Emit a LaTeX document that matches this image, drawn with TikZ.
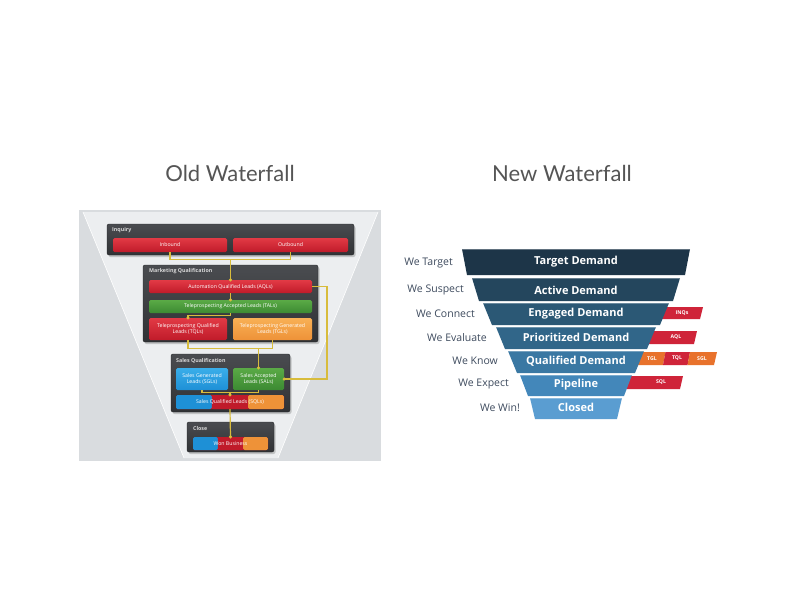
\documentclass[tikz,border=0pt]{standalone}
\usepackage{fontspec}
\setmainfont{Open Sans}
\newfontfamily\titlefont{Lato}
\usetikzlibrary{calc}
\definecolor{panelbg}{HTML}{D9DCDF}
\definecolor{trap}{HTML}{ECEEF0}
\definecolor{dkA}{HTML}{4A4C50}
\definecolor{dkB}{HTML}{303235}
\definecolor{dkC}{HTML}{26282A}
\definecolor{redA}{HTML}{E23A45}
\definecolor{redB}{HTML}{C01B2A}
\definecolor{grnA}{HTML}{5AAA46}
\definecolor{grnB}{HTML}{3C8A32}
\definecolor{orA}{HTML}{F8B055}
\definecolor{orB}{HTML}{EE9238}
\definecolor{blA}{HTML}{3AAEEA}
\definecolor{blB}{HTML}{1E90D6}
\definecolor{cyel}{HTML}{D8BC3C}
\definecolor{titlegray}{HTML}{555555}
\definecolor{lblgray}{HTML}{3E4B5E}
\definecolor{bA}{HTML}{1D3548}
\definecolor{bB}{HTML}{24465D}
\definecolor{bC}{HTML}{2B5875}
\definecolor{bD}{HTML}{316689}
\definecolor{bE}{HTML}{3A78A3}
\definecolor{bF}{HTML}{4387BA}
\definecolor{bG}{HTML}{5A9DD1}
\definecolor{tagred}{HTML}{CF2439}
\definecolor{tagor}{HTML}{E8722C}
\tikzset{
  title/.style={font=\titlefont\fontsize{22}{26}\selectfont, text=titlegray},
  darkbox/.style={rounded corners=2pt, top color=dkA, bottom color=dkB, draw=dkC, line width=0.4pt},
  hdr/.style={font=\bfseries\fontsize{5.3}{6}\selectfont, text=white!85!black, inner sep=0pt, anchor=west},
  leadbox/.style={rounded corners=1.5pt, inner sep=0pt, text=white, font=\fontsize{5.2}{6.2}\selectfont, align=center},
  redbox/.style={leadbox, top color=redA, bottom color=redB},
  grnbox/.style={leadbox, top color=grnA, bottom color=grnB},
  orbox/.style={leadbox, top color=orA, bottom color=orB},
  blbox/.style={leadbox, top color=blA, bottom color=blB},
  tribox/.style={leadbox, fill=redB, path picture={
      \fill[blB] (path picture bounding box.north west) rectangle ($(path picture bounding box.south west)!0.333!(path picture bounding box.south east)$);
      \fill[redB] ($(path picture bounding box.north west)!0.333!(path picture bounding box.north east)$) rectangle ($(path picture bounding box.south west)!0.667!(path picture bounding box.south east)$);
      \fill[orB] ($(path picture bounding box.north west)!0.667!(path picture bounding box.north east)$) rectangle (path picture bounding box.south east);
    }},
  conn/.style={draw=cyel, line width=1.2pt},
  band/.style={font=\bfseries\fontsize{11}{13}\selectfont, text=white, inner sep=0pt},
  weLabel/.style={font=\fontsize{10.5}{12}\selectfont, text=lblgray, inner sep=0pt, anchor=east},
  tagtxt/.style={font=\bfseries\fontsize{5.2}{6}\selectfont, text=white, inner sep=0pt},
  shadowbox/.style={fill=black, opacity=0.18, rounded corners=2pt}
}
\begin{document}
\begin{tikzpicture}[x=1pt,y=-1pt]
\useasboundingbox (0,0) rectangle (800,600);
\fill[white] (0,0) rectangle (800,600);

% Titles
\node[title] (t1) at (230,173) {Old Waterfall};
\node[title] (t2) at (562,173) {New Waterfall};

% ---------- Old waterfall ----------
\fill[panelbg] (79,210) rectangle (381,461);
\fill[trap] (83,212) -- (378,212) -- (278,458) -- (184,458) -- cycle;
\draw[white, line width=0.6pt] (83,212) -- (184,458) (378,212) -- (278,458);

% dark boxes
\fill[shadowbox] (108.5,226) rectangle (355.5,257);
\draw[darkbox] (107,224) rectangle (354,255);
\fill[shadowbox] (144.5,267) rectangle (319.5,344);
\draw[darkbox] (143,265) rectangle (318,342);
\fill[shadowbox] (172.5,356) rectangle (291.5,414);
\draw[darkbox] (171,354) rectangle (290,412);
\fill[shadowbox] (188.5,424) rectangle (275.5,454);
\draw[darkbox] (187,422) rectangle (274,452);

\node[hdr] (hInq) at (112,230.5) {Inquiry};
\node[hdr] (hMQ) at (149,271.5) {Marketing Qualification};
\node[hdr] (hSQ) at (176,360.5) {Sales Qualification};
\node[hdr] (hCl) at (193,428.5) {Close};

\node[redbox, minimum width=114pt, minimum height=14pt] (inb) at (170,245) {Inbound};
\node[redbox, minimum width=115pt, minimum height=14pt] (outb) at (290.5,245) {Outbound};
\node[redbox, minimum width=163pt, minimum height=13pt] (aql) at (230.5,286.5) {Automation Qualified Leads (AQLs)};
\node[grnbox, minimum width=163pt, minimum height=13pt] (tal) at (230.5,306.5) {Teleprospecting Accepted Leads (TALs)};
\node[redbox, minimum width=78pt, minimum height=22pt] (tql) at (188,329) {Teleprospecting Qualified\\Leads (TQLs)};
\node[orbox, minimum width=79pt, minimum height=22pt] (tgl) at (272.5,329) {Teleprospecting Generated\\Leads (TGLs)};
\node[blbox, minimum width=52pt, minimum height=22pt] (sgl) at (202,379) {Sales Generated\\Leads (SGLs)};
\node[grnbox, minimum width=51pt, minimum height=22pt] (sal) at (258.5,379) {Sales Accepted\\Leads (SALs)};
\node[tribox, minimum width=108pt, minimum height=14pt] (sql) at (230,402) {Sales Qualified Leads (SQLs)};
\node[tribox, minimum width=75pt, minimum height=13pt] (won) at (230.5,443.5) {Won Business};

% connectors
\coordinate (j1) at (230.5,259);
\coordinate (j2) at (258.5,348);
\coordinate (j3) at (230,392.5);
\coordinate (j4) at (327,286.5);
\draw[conn] (inb.south) -- ++(0,7) -| (outb.south);
\draw[conn] (j1) -- (aql.north);
\fill[cyel] (aql.north) circle (1.7);
\draw[conn] (aql.south) -- (tal.north);
\fill[cyel] (tal.north) circle (1.7);
\draw[conn] (tal.south) -- ++(0,2.5) -| (tql.north);
\fill[cyel] (tql.north) circle (1.7);
\draw[conn] (tql.south) -- ++(0,8) -| (tgl.south);
\draw[conn] (j2) -- (sal.north);
\fill[cyel] (sal.north) circle (1.7);
\draw[conn] (aql.east) -- (j4) |- (sal.east);
\fill[cyel] (sal.east) circle (1.7);
\draw[conn] (sgl.south) -- ++(0,2.5) -| (sal.south);
\draw[conn] (j3) -- (sql.north);
\fill[cyel] (sql.north) circle (1.7);
\draw[conn] (sql.south) -- (won.north);
\fill[cyel] (won.north) circle (1.7);

% ---------- New waterfall ----------
% tags (behind funnel)
\fill[tagred] (655,307) -- (703,307) -- (700,319) -- (652,319) -- cycle;
\node[tagtxt] (inq) at (682,313) {INQs};
\fill[tagred] (650,331) -- (697,331) -- (694,344) -- (647,344) -- cycle;
\node[tagtxt] (aqlt) at (676,337.5) {AQL};
\fill[tagor] (636,352) -- (665.5,352) -- (663,365) -- (633,365) -- cycle;
\fill[tagred] (665.5,352) -- (690,352) -- (687.5,365) -- (663,365) -- cycle;
\fill[tagor] (690,352) -- (717,352) -- (714,365) -- (687.5,365) -- cycle;
\node[tagtxt] (tglt) at (652,358.5) {TGL};
\node[tagtxt] (tqlt) at (677,358.5) {TQL};
\node[tagtxt] (sglt) at (702,358.5) {SGL};
\fill[tagred] (622,376) -- (683,376) -- (680,389) -- (619,389) -- cycle;
\node[tagtxt] (sqlt) at (661,382.5) {SQL};

% bands
\fill[bA] (462,249) -- (690,249) -- (685,275) -- (467,275) -- cycle;
\fill[bB] (472,278) -- (680,278) -- (673,301) -- (479,301) -- cycle;
\fill[bC] (483,303) -- (669,303) -- (660,325) -- (492,325) -- cycle;
\fill[bD] (496,327) -- (656,327) -- (647,349) -- (505,349) -- cycle;
\fill[bE] (508,351) -- (644,351) -- (635,373) -- (517,373) -- cycle;
\fill[bF] (520,375) -- (632,375) -- (624,396) -- (528,396) -- cycle;
\fill[bG] (530,398) -- (622,398) -- (617,419) -- (535,419) -- cycle;
\foreach \ya/\xa/\xb in {249/462/690, 278/472/680, 303/483/669, 327/496/656, 351/508/644, 375/520/632, 398/530/622}
  \draw[white, opacity=0.3, line width=0.6pt] (\xa,\ya+0.3) -- (\xb,\ya+0.3);

\node[band] (n1) at (576,262) {Target Demand};
\node[band] (n2) at (576,290) {Active Demand};
\node[band] (n3) at (576,313.5) {Engaged Demand};
\node[band] (n4) at (576,337.5) {Prioritized Demand};
\node[band] (n5) at (576,361.5) {Qualified Demand};
\node[band] (n6) at (576,384.5) {Pipeline};
\node[band] (n7) at (576,407.5) {Closed};

\node[weLabel] (w1) at (453,263) {We Target};
\node[weLabel] (w2) at (464,290) {We Suspect};
\node[weLabel] (w3) at (475,313.5) {We Connect};
\node[weLabel] (w4) at (487,337.5) {We Evaluate};
\node[weLabel] (w5) at (498,361) {We Know};
\node[weLabel] (w6) at (509,384) {We Expect};
\node[weLabel] (w7) at (520,407.5) {We Win!};
\end{tikzpicture}
\end{document}
